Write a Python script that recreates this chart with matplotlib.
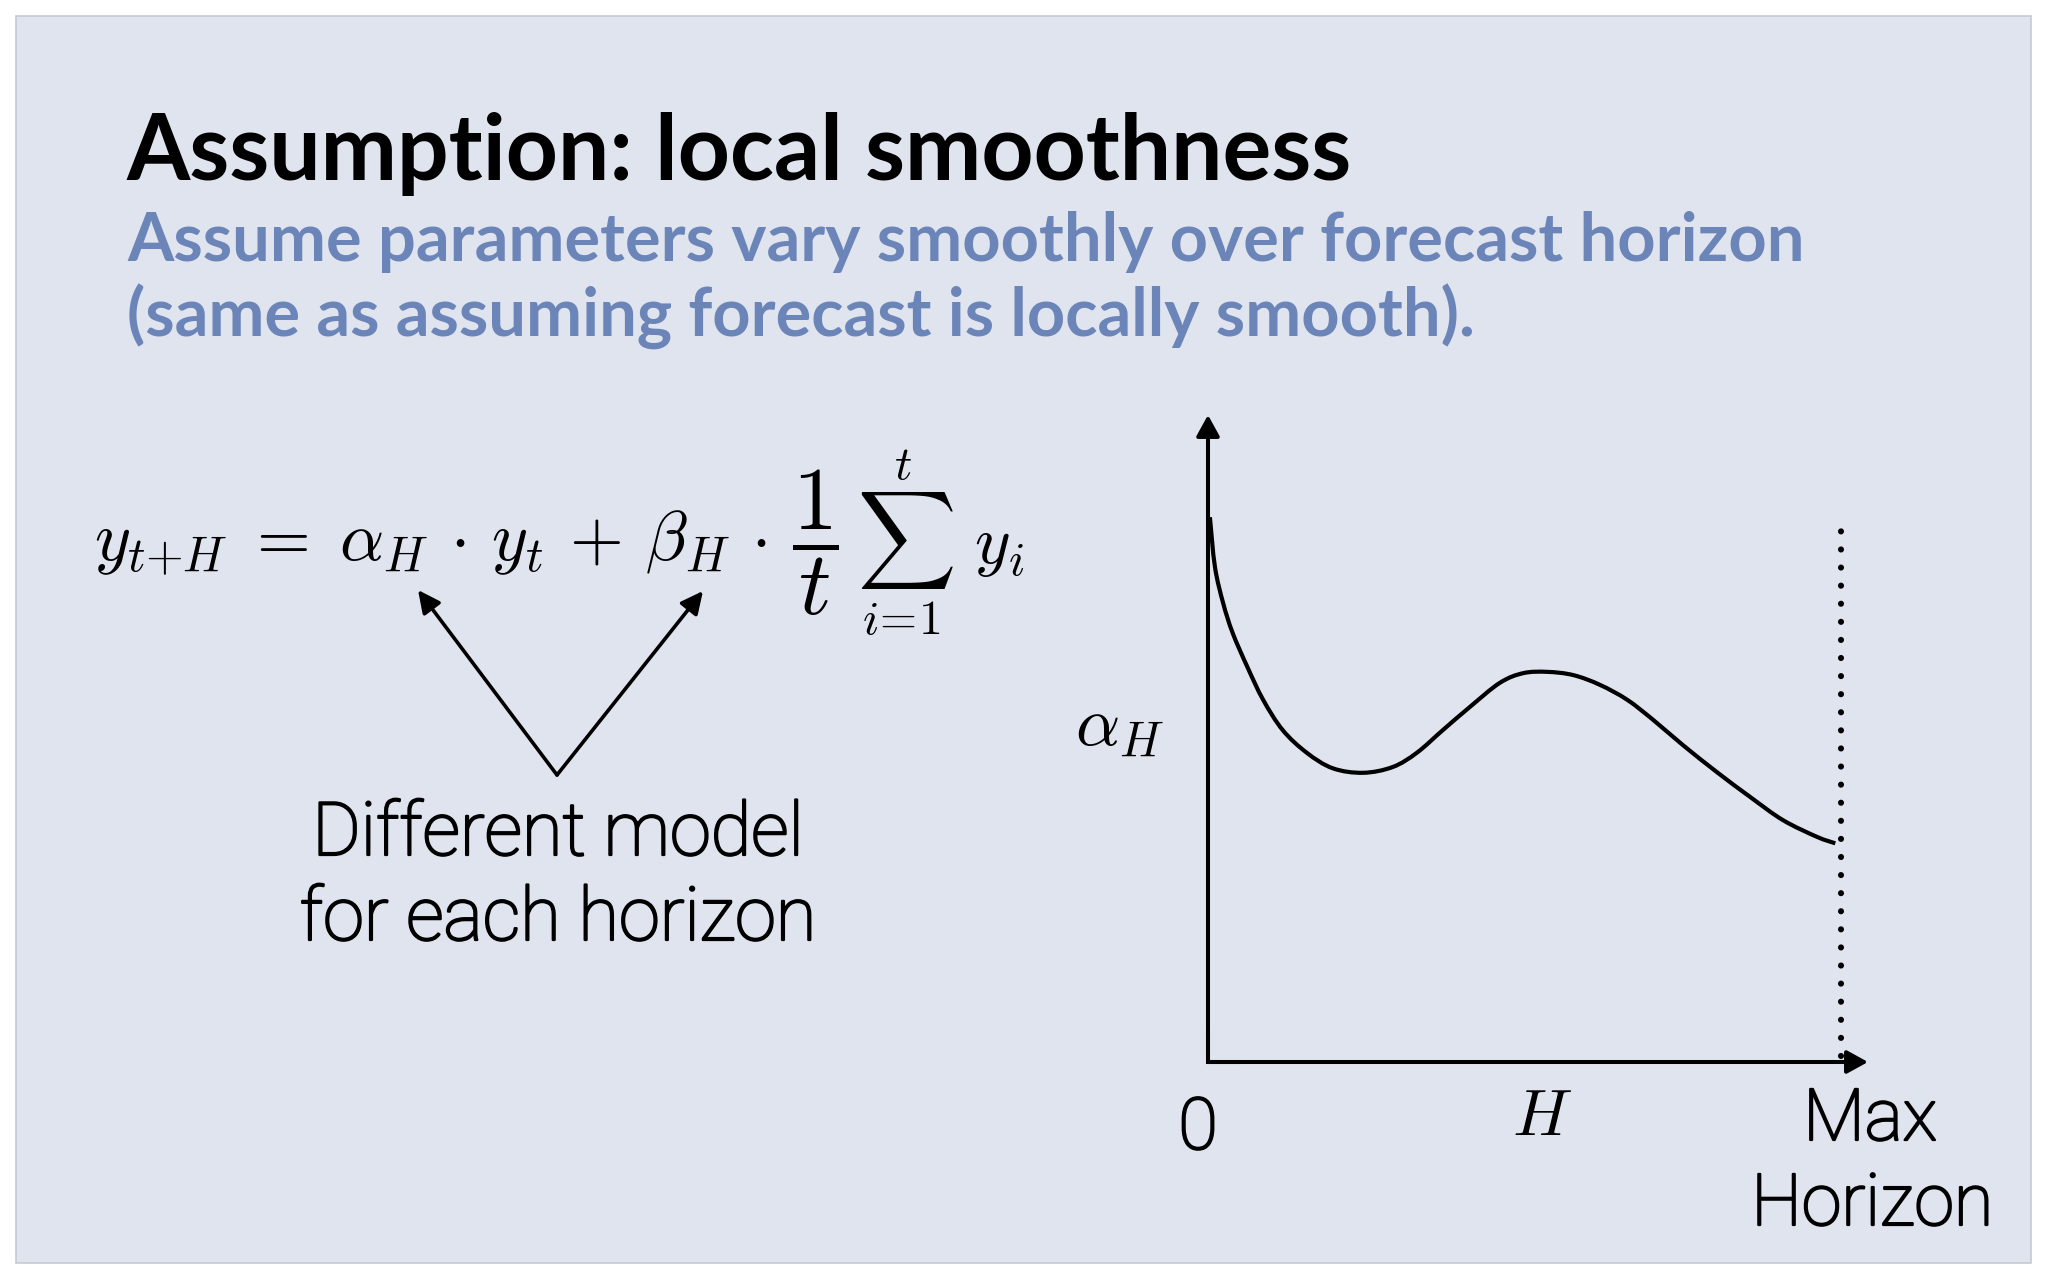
import matplotlib
matplotlib.use("Agg")
import matplotlib.pyplot as plt
import matplotlib.patheffects as pe
from matplotlib.patches import Rectangle, PathPatch
from matplotlib.path import Path

plt.rcParams["mathtext.fontset"] = "cm"

# ---------------- data ----------------
title = "Assumption: local smoothness"
subtitle_lines = ["Assume parameters vary smoothly over forecast horizon",
                  "(same as assuming forecast is locally smooth)."]
formula_left = r"$y_{t{+}H} \;=\; \alpha_H \,\cdot\, y_t \,+\, \beta_H \,\cdot$"
formula_frac = r"$\dfrac{1}{t}$"
formula_sum = r"$\sum_{i\!=\!1}^{t}\;\, y_i$"
note_lines = ["Different model", "for each horizon"]
y_label = r"$\alpha_H$"
x_label_zero = "0"
x_label_mid = r"$H$"
x_label_max = ["Max", "Horizon"]

# alpha_H as a function of horizon (horizon scaled 0..1 = Max Horizon)
horizon = [0.003, 0.011, 0.024, 0.039, 0.062, 0.087, 0.118, 0.156, 0.197,
           0.245, 0.292, 0.330, 0.371, 0.414, 0.461, 0.498, 0.536, 0.577,
           0.619, 0.662, 0.703, 0.750, 0.804, 0.856, 0.908, 0.962, 0.991]
alpha = [0.842, 0.765, 0.709, 0.663, 0.611, 0.560, 0.513, 0.478, 0.454,
         0.447, 0.456, 0.478, 0.513, 0.549, 0.586, 0.601, 0.603, 0.598,
         0.583, 0.560, 0.529, 0.490, 0.448, 0.410, 0.374, 0.348, 0.338]
max_horizon = 1.0

# ---------------- figure ----------------
W, H = 2048, 1280
DPI = 100
fig = plt.figure(figsize=(W / DPI, H / DPI), dpi=DPI, facecolor="white")

bg = fig.add_axes([0, 0, 1, 1])
bg.set_xlim(0, W)
bg.set_ylim(H, 0)
bg.axis("off")
bg.add_patch(Rectangle((16, 16), 2031 - 16, 1263 - 16, facecolor="#E0E4EE",
                       edgecolor="#C6C9D1", lw=1.2, zorder=0))

def fx(px):
    return px / W

def fy(py):
    return 1 - py / H

fig.canvas.draw()
renderer = fig.canvas.get_renderer()

def fit(t, target_w):
    bb = t.get_window_extent(renderer)
    t.set_fontsize(t.get_fontsize() * target_w / bb.width)
    return t.get_fontsize()

# title + subtitle
t_title = fig.text(fx(127), fy(180), title, family=["Lato", "DejaVu Sans"],
                   fontweight="bold", fontsize=60, color="black",
                   ha="left", va="baseline")
fit(t_title, 1225)

sub_color = "#6C85B8"
t_s1 = fig.text(fx(127), fy(261), subtitle_lines[0], family=["Lato", "DejaVu Sans"],
                fontweight="bold", fontsize=45, color=sub_color,
                ha="left", va="baseline")
s_size = fit(t_s1, 1676)
fig.text(fx(127), fy(337), subtitle_lines[1], family=["Lato", "DejaVu Sans"],
         fontweight="bold", fontsize=s_size, color=sub_color,
         ha="left", va="baseline")

# formula (three pieces so the display-style fraction and sum keep full size)
t_fl = fig.text(fx(94), fy(560), formula_left, fontsize=40, color="black",
                ha="left", va="baseline")
f_size = fit(t_fl, 768 - 94)
fig.text(fx(815), fy(543), formula_frac, fontsize=f_size * 1.3, color="black",
         ha="center", va="center")
t_fs = fig.text(fx(857), fy(543), formula_sum, fontsize=40, color="black",
                ha="left", va="center")
fit(t_fs, 1025 - 857)

# arrows from the note to alpha_H and beta_H
for tip in [(418, 590), (703, 591)]:
    bg.annotate("", xy=tip, xytext=(557, 775), xycoords="data",
                arrowprops=dict(arrowstyle="-|>,head_length=0.45,head_width=0.22",
                                mutation_scale=30, lw=2.6, color="black",
                                shrinkA=0, shrinkB=0))

stroke = [pe.withStroke(linewidth=1.6, foreground="black")]
light = dict(family=["Roboto", "DejaVu Sans"], fontweight="light", color="black",
             path_effects=stroke)
t_n2 = fig.text(fx(558), fy(940), note_lines[1], fontsize=50, ha="center",
                va="baseline", **light)
n_size = fit(t_n2, 517)
fig.text(fx(558), fy(855), note_lines[0], fontsize=n_size, ha="center",
         va="baseline", **light)

# ---------------- chart ----------------
ax = fig.add_axes([fx(1208), fy(1062), 633 / W, 647 / H])
ax.set_xlim(0, 1)
ax.set_ylim(0, 1)
ax.axis("off")
ax.patch.set_alpha(0)

axis_lw = 2.9
x_end = (1868 - 1208) / 633
for xy in [(x_end, 0), (0, 1.0)]:
    ax.annotate("", xy=xy, xytext=(0, 0), xycoords="data",
                arrowprops=dict(arrowstyle="-|>,head_length=0.4,head_width=0.22",
                                mutation_scale=32, lw=axis_lw, color="black",
                                shrinkA=0, shrinkB=0),
                annotation_clip=False)
ax.plot([0, 0, 0.05], [0.05, 0, 0], color="black", lw=axis_lw,
        solid_joinstyle="miter", solid_capstyle="butt", clip_on=False)

ax.plot([max_horizon, max_horizon], [0.01, 0.822], color="black", lw=4.4,
        linestyle=(0, (0.01, 2.95)), dash_capstyle="round", clip_on=False)

# smooth (Catmull-Rom -> cubic Bezier) line through the read points
pts = list(zip(horizon, alpha))
verts = [pts[0]]
codes = [Path.MOVETO]
n = len(pts)
for i in range(n - 1):
    p0 = pts[i - 1] if i > 0 else pts[i]
    p1 = pts[i]
    p2 = pts[i + 1]
    p3 = pts[i + 2] if i + 2 < n else pts[i + 1]
    c1 = (p1[0] + (p2[0] - p0[0]) / 6, p1[1] + (p2[1] - p0[1]) / 6)
    c2 = (p2[0] - (p3[0] - p1[0]) / 6, p2[1] - (p3[1] - p1[1]) / 6)
    verts += [c1, c2, p2]
    codes += [Path.CURVE4] * 3
ax.add_patch(PathPatch(Path(verts, codes), fill=False, edgecolor="black",
                       lw=3.0, capstyle="butt", joinstyle="round", clip_on=False))

fig.text(fx(1119), fy(727), y_label, fontsize=f_size, ha="center",
         va="center", color="black")

t_h2 = fig.text(fx(1872), fy(1225), x_label_max[1], fontsize=50, ha="center",
                va="baseline", **light)
m_size = fit(t_h2, 242)
fig.text(fx(1870), fy(1140), x_label_max[0], fontsize=m_size, ha="center",
         va="baseline", **light)
fig.text(fx(1198), fy(1149), x_label_zero, fontsize=m_size, ha="center",
         va="baseline", **light)
fig.text(fx(1542), fy(1135), x_label_mid, fontsize=f_size * 0.95, ha="center",
         va="baseline", color="black")

fig.savefig("out.png", dpi=DPI, facecolor="white")
